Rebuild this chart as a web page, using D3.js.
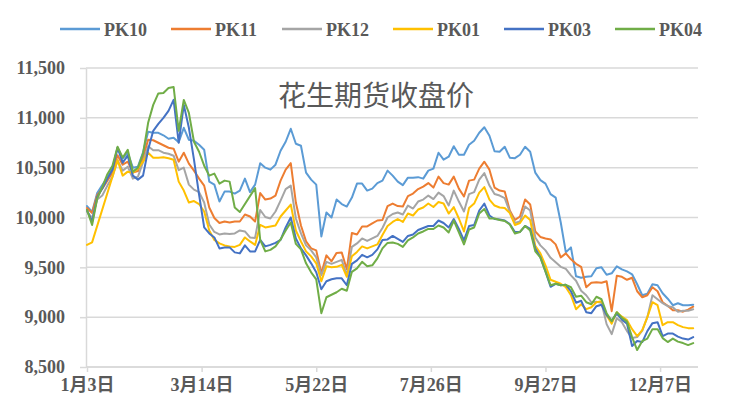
<!DOCTYPE html>
<html><head><meta charset="utf-8">
<script src="https://cdn.jsdelivr.net/npm/d3@7"></script>
<style>body{margin:0;background:#fff}svg{display:block}</style>
</head><body>
<svg id="chart" width="752" height="417"></svg>
<script>
const seriesNames = ["PK10","PK11","PK12","PK01","PK03","PK04"];
const seriesColors = ["#5B9BD5","#ED7D31","#A5A5A5","#FFC000","#4472C4","#70AD47"];
const dayIndex = d3.range(0, 240, 2);          // trading-day index of each sample
const tickIndex = [0, 45, 90, 135, 180, 225];
const tickLabels = ["1月3日","3月14日","5月22日","7月26日","9月27日","12月7日"];
const yTicks = [8500, 9000, 9500, 10000, 10500, 11000, 11500];
const titleText = "花生期货收盘价";

const pk10 = [10115,10055,10245,10325,10400,10490,10700,10590,10650,10500,
10510,10655,10860,10850,10850,10825,10790,10800,10755,10900,
10780,10770,10730,10680,10360,10330,10160,10260,10260,10240,
10270,10390,10255,10330,10545,10500,10480,10530,10670,10760,
10890,10740,10720,10450,10380,10330,9810,10050,10000,10180,
10135,10110,10200,10340,10340,10270,10290,10345,10370,10470,
10420,10360,10325,10400,10400,10405,10390,10470,10490,10650,
10580,10610,10715,10630,10630,10730,10770,10850,10905,10820,
10665,10660,10710,10600,10595,10630,10710,10660,10450,10375,
10340,10235,10200,9950,9650,9700,9410,9395,9405,9410,
9490,9500,9425,9440,9510,9480,9460,9430,9330,9220,
9235,9330,9320,9240,9185,9120,9140,9120,9120,9125];

const pk11 = [10095,10045,10225,10290,10370,10450,10625,10530,10560,10450,
10465,10600,10780,10775,10750,10725,10700,10690,10560,10650,
10540,10470,10390,10320,10100,9995,9945,9960,9950,9960,
9960,10030,10010,9960,10245,10180,10190,10220,10370,10480,
10545,10150,9920,9760,9690,9670,9440,9620,9560,9645,
9650,9480,9845,9830,9910,9910,9940,9970,9975,10115,
10140,10115,10110,10215,10240,10285,10310,10345,10300,10410,
10345,10330,10410,10290,10210,10370,10380,10490,10560,10480,
10300,10270,10260,10070,9975,10010,10180,10130,9860,9805,
9790,9780,9730,9600,9640,9580,9535,9505,9300,9345,
9350,9345,9360,9060,9415,9405,9375,9395,9260,9200,
9220,9300,9260,9150,9115,9070,9070,9055,9075,9105];

const pk12 = [10060,9995,10180,10220,10320,10410,10575,10470,10510,10390,
10410,10555,10715,10675,10675,10650,10640,10620,10475,10500,
10330,10280,10255,10150,9930,9855,9830,9840,9835,9840,
9870,9860,9800,9795,10075,10005,9990,10060,10170,10285,
10320,9990,9840,9720,9670,9600,9420,9555,9535,9555,
9575,9420,9705,9740,9790,9765,9790,9815,9895,10000,
10035,10050,10030,10120,10090,10160,10180,10220,10185,10250,
10215,10120,10270,10160,10060,10235,10255,10380,10445,10320,
10235,10220,10195,10055,9945,9960,10110,10070,9800,9720,
9670,9595,9550,9505,9485,9420,9365,9265,9220,9150,
9155,9145,8930,8830,8990,8950,8860,8790,8800,8865,
9000,9220,9180,9140,9110,9100,9055,9065,9065,9080];

const pk01 = [9725,9750,null,null,null,null,10575,10420,10460,10450,
10490,10560,10650,10600,10600,10605,10595,10580,10360,10270,
10150,10165,10135,10060,9870,9775,9740,9720,9710,9705,
9725,9800,9760,9725,9925,9900,9910,9920,10010,10070,
10130,9870,9760,9660,9610,9540,9360,9510,9500,9505,
9525,9405,9610,9655,9710,9690,9710,9730,9825,9915,
9955,9985,9955,10040,10020,10080,10100,10140,10105,10155,
10140,10040,10105,9990,9860,10095,10140,10250,10305,10180,
10120,10100,10095,10045,9925,9945,10020,9975,9715,9640,
9520,9375,9355,9335,9300,9220,9080,9130,9080,9100,
9150,9160,9020,8935,9050,9005,8970,8880,8810,8870,
9000,9150,9120,8920,8950,8950,8920,8900,8890,8890];

const pk03 = [10075,9955,10205,10290,10390,10480,10700,10550,10620,10420,
10380,10420,10680,10870,10940,11000,11070,11180,10750,11130,
10900,10580,10230,9900,9840,9800,9690,9700,9700,9650,
9640,9720,9660,9660,9775,9710,9725,9745,9775,9900,
10000,9790,9690,9620,9540,9450,9280,9360,9380,9390,
9390,9320,9535,9570,9625,9600,9625,9680,9775,9780,
9815,9785,9755,9815,9830,9875,9895,9915,9915,9970,
9945,9900,9985,9885,9770,9915,9925,10070,10140,10020,
9985,9980,9970,9935,9855,9855,9915,9885,9690,9600,
9460,9305,9335,9320,9325,9260,9145,9165,9050,9040,
9110,9125,9020,8965,9035,8975,8935,8710,8760,8750,
8860,8940,8950,8810,8835,8835,8805,8785,8775,8800];

const pk04 = [10075,9925,10190,10305,10435,10520,10710,10600,10680,10460,
10500,10640,10950,11130,11245,11250,11300,11310,10870,11180,
11050,10760,10660,10520,10420,10440,10340,10370,10360,10100,
10055,null,null,10295,9775,9660,9675,9710,9780,9870,
9950,9735,9680,9540,9450,9380,9040,9200,9225,9250,
9285,9265,9455,9490,9555,9510,9520,9590,9690,9745,
9750,9735,9705,9770,9800,9840,9860,9885,9885,9920,
9900,9850,9970,9850,9730,9880,9900,10040,10085,9990,
9990,9975,9965,9930,9840,9855,9915,9870,9660,9600,
9460,9320,9335,9320,9325,9300,9205,9215,9150,9130,
9205,9180,9040,8960,9050,8995,8955,8800,8670,8760,
8785,8880,8880,8790,8750,8785,8755,8740,8720,8740];

const seriesValues = [pk10, pk11, pk12, pk01, pk03, pk04];

const plot = {left: 86, right: 698, top: 68, bottom: 367};
const gridColor = "#D9D9D9", textColor = "#595959";
const svg = d3.select("#chart");

const x = d3.scaleLinear().domain([0, 238]).range([87, 693.2]);
const y = d3.scaleLinear().domain([8500, 11500]).range([plot.bottom, plot.top]);

// gridlines
svg.append("g").selectAll("line").data(yTicks).join("line")
  .attr("x1", plot.left).attr("x2", plot.right)
  .attr("y1", d => y(d)).attr("y2", d => y(d))
  .attr("stroke", gridColor).attr("stroke-width", 1.5);

// y axis
const gy = svg.append("g").attr("transform", `translate(${plot.left},0)`)
  .call(d3.axisLeft(y).tickValues(yTicks).tickFormat(d3.format(",")).tickSize(6).tickSizeOuter(0).tickPadding(15));
gy.select(".domain").attr("stroke", gridColor).attr("stroke-width", 1.5);
gy.selectAll(".tick line").attr("stroke", gridColor).attr("stroke-width", 1.5);
gy.selectAll(".tick text").attr("fill", textColor)
  .style("font-family", "'Liberation Serif', 'Noto Sans CJK SC'").style("font-size", "18px").style("font-weight", "bold");

// x axis
const gx = svg.append("g").attr("transform", `translate(0,${plot.bottom})`)
  .call(d3.axisBottom(x).tickValues(tickIndex).tickFormat((d, i) => tickLabels[i]).tickSize(5).tickSizeOuter(0).tickPadding(6));
gx.select(".domain").remove();
gx.append("line").attr("x1", plot.left).attr("x2", plot.right).attr("y1", 0).attr("y2", 0)
  .attr("stroke", gridColor).attr("stroke-width", 1.5);
gx.selectAll(".tick line").attr("stroke", gridColor).attr("stroke-width", 1.5);
gx.selectAll(".tick text").attr("fill", textColor)
  .style("font-family", "'Liberation Serif', 'Noto Sans CJK SC'").style("font-size", "18px").style("font-weight", "bold");

// series lines (gaps bridged like the original)
const line = d3.line().x(d => x(d.i)).y(d => y(d.v));
seriesValues.forEach((vals, s) => {
  const pts = dayIndex.map((i, k) => ({i, v: vals[k]})).filter(d => d.v != null);
  svg.append("path").datum(pts).attr("d", line)
    .attr("fill", "none").attr("stroke", seriesColors[s])
    .attr("stroke-width", 2).attr("stroke-linejoin", "round").attr("stroke-linecap", "round");
});

// title
svg.append("text").attr("x", 376).attr("y", 106).attr("text-anchor", "middle")
  .attr("fill", textColor).style("font-family", "'Noto Sans CJK SC'").style("font-size", "28px")
  .text(titleText);

// legend
const lg = svg.append("g");
seriesNames.forEach((n, i) => {
  const x0 = 60 + i * 111;
  lg.append("line").attr("x1", x0).attr("x2", x0 + 40).attr("y1", 29).attr("y2", 29)
    .attr("stroke", seriesColors[i]).attr("stroke-width", 2.5);
  lg.append("text").attr("x", x0 + 44).attr("y", 35.5).attr("fill", textColor)
    .style("font-family", "'Liberation Serif'").style("font-size", "18px").style("font-weight", "bold")
    .text(n);
});
</script>
</body></html>
